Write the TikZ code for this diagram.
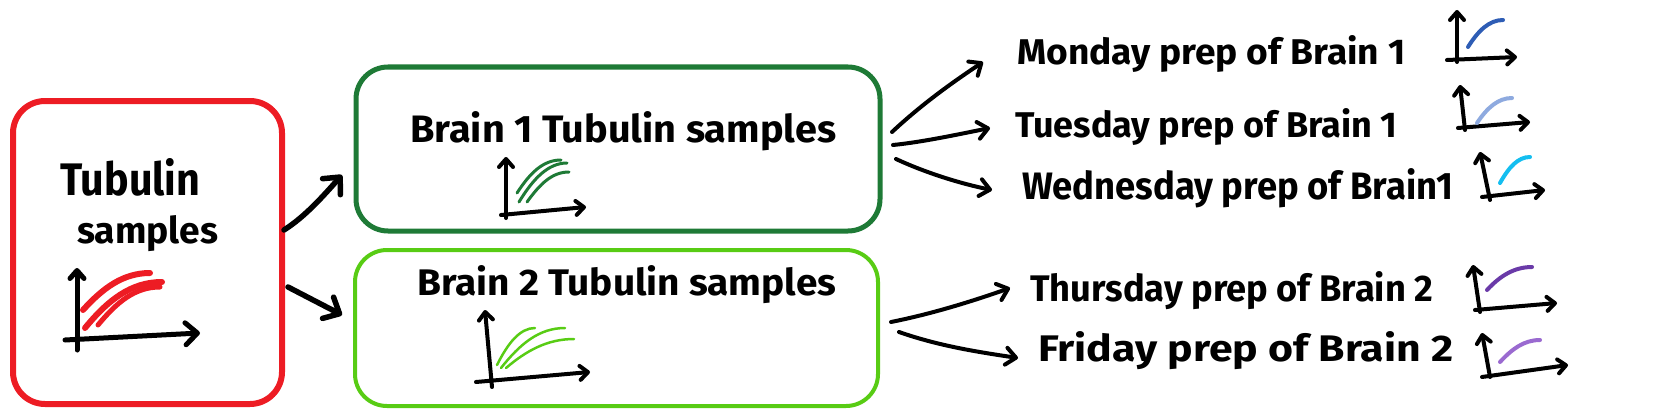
\documentclass[tikz,border=0pt]{standalone}
\usepackage{fontspec}
\setmainfont{Fira Sans}
\usetikzlibrary{arrows.meta,calc}
\definecolor{cred}{RGB}{237,28,36}
\definecolor{cdg}{RGB}{30,122,54}
\definecolor{clg}{RGB}{88,204,20}
\definecolor{cmon}{RGB}{46,93,181}
\definecolor{ctue}{RGB}{142,170,223}
\definecolor{cwed}{RGB}{20,190,240}
\definecolor{cthu}{RGB}{106,58,168}
\definecolor{cfri}{RGB}{154,106,208}
\begin{document}
\begin{tikzpicture}[x=1pt,y=-1pt,
  box/.style={draw, rounded corners=32pt, inner sep=0pt, outer sep=0pt},
  lbl/.style={anchor=base west, inner sep=0pt, font=\bfseries},
  link/.style={line width=4pt, line cap=round, -{Straight Barb[length=10pt,width=17pt,line cap=round,line join=round]}},
  biglink/.style={line width=5.5pt, line cap=round, -{Straight Barb[length=13pt,width=24pt,line cap=round,line join=round]}},
  axis/.style={line width=4pt, line cap=round, -{Straight Barb[length=8pt,width=14pt,line cap=round,line join=round]}},
  trace/.style={line width=#1, line cap=round}
]
\useasboundingbox (0,0) rectangle (1672,420);

% boxes
\node[box, draw=cred, line width=6pt, minimum width=269pt, minimum height=303pt] (tub) at (147.5,252.5) {};
\node[box, draw=cdg, line width=5pt, minimum width=524pt, minimum height=164pt] (g1) at (618,149) {};
\node[box, draw=clg, line width=4pt, minimum width=523pt, minimum height=156pt] (g2) at (616.5,328) {};

% texts
\node[lbl] (t1a) at (60,195) {\resizebox{140pt}{37pt}{Tubulin}};
\node[lbl] (t1b) at (77,243) {\resizebox{141pt}{28pt}{samples}};
\node[lbl] (t2) at (410,142) {\resizebox{426pt}{31pt}{Brain 1 Tubulin samples}};
\node[lbl] (t3) at (417,295) {\resizebox{419pt}{30pt}{Brain 2 Tubulin samples}};
\node[lbl] (mon) at (1017,64) {\resizebox{388pt}{29pt}{Monday prep of Brain 1}};
\node[lbl] (tue) at (1015,137) {\resizebox{382pt}{29pt}{Tuesday prep of Brain 1}};
\node[lbl] (wed) at (1022,199) {\resizebox{431pt}{31pt}{Wednesday prep of Brain1}};
\node[lbl] (thu) at (1030,301) {\resizebox{403pt}{30pt}{Thursday prep of Brain 2}};
\node[lbl] (fri) at (1038,361) {\resizebox{415pt}{30pt}{Friday prep of Brain 2}};

% connectors
\draw[biglink] ($(tub.east)+(2,-22.5)$) .. controls +(22,-14) and +(-18,20) .. ($(g1.west)+(-14,26)$);
\draw[biglink] ($(tub.east)+(6,34.5)$) -- ($(g2.west)+(-13,-13)$);
\draw[link] ($(g1.east)+(12,-17)$) .. controls +(30,-28) and +(-30,20) .. ($(mon.base west)+(-34,-2)$);
\draw[link] ($(g1.east)+(13,-4)$) .. controls +(30,-3) and +(-30,6) .. ($(tue.base west)+(-25,-9)$);
\draw[link] ($(g1.east)+(16,10)$) .. controls +(30,14) and +(-30,-6) .. ($(wed.base west)+(-30,-9)$);
\draw[link] ($(g2.east)+(13,-6)$) .. controls +(40,-8) and +(-40,14) .. ($(thu.base west)+(-20,-13)$);
\draw[link] ($(g2.east)+(21,4)$) .. controls +(40,14) and +(-40,-6) .. ($(fri.base west)+(-20,-3)$);

% red chart
\draw[axis, line width=5pt] (77,350) -- (77,268);
\draw[axis, line width=5pt, -{Straight Barb[length=12pt,width=22pt,line cap=round,line join=round]}] (65,340) -- (200,333);
\draw[trace=6pt, cred] (83,310) .. controls +(20,-22) and +(-27,0) .. (150,273);
\draw[trace=6pt, cred] (85,328) .. controls +(23,-28) and +(-31,0) .. (162,282);
\draw[trace=5pt, cred] (98,325) .. controls +(19,-23) and +(-25,0) .. (160,287);

% brain 1 chart
\draw[axis] (506,218) -- (506,157);
\draw[axis] (501,215) -- (586,207);
\draw[trace=3pt, cdg] (517,193) .. controls +(13,-20) and +(-18,0) .. (561,160);
\draw[trace=3pt, cdg] (519,202) .. controls +(14,-23) and +(-19,0) .. (567,163);
\draw[trace=3pt, cdg] (527,202) .. controls +(13,-18) and +(-17,0) .. (569,172);

% brain 2 chart
\draw[axis] (492,387) -- (485,310);
\draw[axis] (476,382) -- (590,372);
\draw[trace=2.5pt, clg] (497,365) .. controls +(11,-22) and +(-15,0) .. (535,328);
\draw[trace=2.5pt, clg] (501,368) .. controls +(19,-24) and +(-26,0) .. (565,328);
\draw[trace=2.5pt, clg] (506,368) .. controls +(20,-17) and +(-27,0) .. (574,339);

% small charts
\draw[axis] (1457,62) -- (1457,10);
\draw[axis] (1447,60) -- (1517,57);
\draw[trace=4pt, cmon] (1468,47) .. controls +(10,-16) and +(-14,0) .. (1503,20);

\draw[axis] (1465,130) -- (1460,85);
\draw[axis] (1458,128) -- (1530,122);
\draw[trace=4pt, ctue] (1477,123) .. controls +(10,-15) and +(-14,0) .. (1512,98);

\draw[axis] (1490,200) -- (1480,152);
\draw[axis] (1482,197) -- (1545,190);
\draw[trace=4pt, cwed] (1500,183) .. controls +(9,-16) and +(-12,0) .. (1530,157);

\draw[axis] (1480,312) -- (1473,265);
\draw[axis] (1475,310) -- (1557,303);
\draw[trace=4pt, cthu] (1487,290) .. controls +(13,-14) and +(-18,0) .. (1532,267);

\draw[axis] (1490,377) -- (1482,333);
\draw[axis] (1482,377) -- (1568,365);
\draw[trace=4pt, cfri] (1500,362) .. controls +(12,-13) and +(-16,0) .. (1540,340);
\end{tikzpicture}
\end{document}
